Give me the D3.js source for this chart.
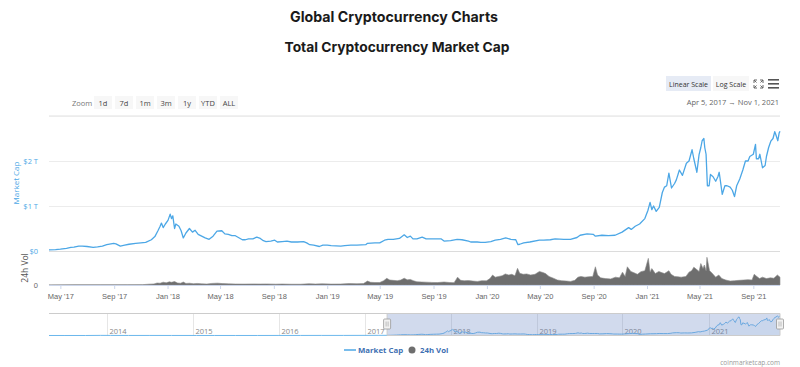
<!DOCTYPE html>
<html><head><meta charset="utf-8">
<script src="https://cdn.jsdelivr.net/npm/d3@7"></script>
<style>
html,body{margin:0;padding:0;background:#fff;}
svg{display:block;font-family:"Open Sans","Noto Sans",sans-serif;}
</style></head><body>
<svg id="c" width="800" height="367"></svg>
<script>
// ---------- DATA ----------
const chartTitle = "Global Cryptocurrency Charts";
const chartSubtitle = "Total Cryptocurrency Market Cap";
const zoomButtons = ["1d","7d","1m","3m","1y","YTD","ALL"];
const rangeText = ["Apr 5, 2017", "→", "Nov 1, 2021"];
const capTickValues = [0, 1, 2, 3];
const capTickLabels = ["$0", "$1 T", "$2 T", ""];
const xTickDates = ["2017-05-01","2017-09-01","2018-01-01","2018-05-01","2018-09-01","2019-01-01","2019-05-01","2019-09-01","2020-01-01","2020-05-01","2020-09-01","2021-01-01","2021-05-01","2021-09-01"];
const xTickLabels = ["May '17","Sep '17","Jan '18","May '18","Sep '18","Jan '19","May '19","Sep '19","Jan '20","May '20","Sep '20","Jan '21","May '21","Sep '21"];
const navYears = ["2014","2015","2016","2017","2018","2019","2020","2021"];

// Total market cap, trillions USD
const capDates = ["2017-04-05","2017-04-20","2017-05-01","2017-05-15","2017-05-25","2017-06-01","2017-06-12","2017-06-20","2017-07-01","2017-07-15","2017-07-25","2017-08-05","2017-08-15","2017-08-31","2017-09-05","2017-09-15","2017-09-25","2017-10-05","2017-10-20","2017-11-01","2017-11-12","2017-11-25","2017-12-03","2017-12-10","2017-12-15","2017-12-18","2017-12-22","2017-12-27","2018-01-02","2018-01-07","2018-01-10","2018-01-13","2018-01-17","2018-01-20","2018-01-27","2018-02-01","2018-02-06","2018-02-12","2018-02-20","2018-02-27","2018-03-05","2018-03-12","2018-03-20","2018-03-28","2018-04-06","2018-04-15","2018-04-24","2018-05-05","2018-05-12","2018-05-20","2018-05-28","2018-06-05","2018-06-12","2018-06-21","2018-06-28","2018-07-05","2018-07-15","2018-07-24","2018-08-01","2018-08-08","2018-08-14","2018-08-25","2018-09-03","2018-09-09","2018-09-20","2018-10-01","2018-10-11","2018-10-25","2018-11-08","2018-11-15","2018-11-22","2018-12-01","2018-12-14","2018-12-22","2019-01-01","2019-01-10","2019-02-01","2019-02-10","2019-02-24","2019-03-10","2019-03-30","2019-04-03","2019-04-20","2019-05-01","2019-05-12","2019-05-20","2019-06-01","2019-06-15","2019-06-26","2019-07-03","2019-07-10","2019-07-16","2019-07-25","2019-08-06","2019-08-15","2019-08-25","2019-09-05","2019-09-18","2019-09-25","2019-10-10","2019-10-25","2019-11-05","2019-11-20","2019-11-25","2019-12-10","2019-12-18","2019-12-28","2020-01-10","2020-01-20","2020-02-01","2020-02-13","2020-02-25","2020-03-07","2020-03-12","2020-03-16","2020-03-25","2020-04-08","2020-04-30","2020-05-10","2020-05-25","2020-06-05","2020-06-25","2020-07-10","2020-07-25","2020-08-01","2020-08-17","2020-08-31","2020-09-05","2020-09-20","2020-10-05","2020-10-20","2020-11-05","2020-11-20","2020-11-26","2020-12-05","2020-12-15","2020-12-27","2021-01-03","2021-01-08","2021-01-12","2021-01-16","2021-01-22","2021-01-29","2021-02-05","2021-02-10","2021-02-15","2021-02-20","2021-02-26","2021-03-05","2021-03-09","2021-03-16","2021-03-23","2021-04-01","2021-04-07","2021-04-14","2021-04-18","2021-04-25","2021-04-30","2021-05-04","2021-05-07","2021-05-11","2021-05-13","2021-05-16","2021-05-19","2021-05-23","2021-05-26","2021-06-01","2021-06-07","2021-06-12","2021-06-15","2021-06-22","2021-06-28","2021-07-03","2021-07-10","2021-07-15","2021-07-20","2021-07-25","2021-08-01","2021-08-08","2021-08-14","2021-08-20","2021-08-24","2021-09-01","2021-09-06","2021-09-08","2021-09-13","2021-09-16","2021-09-22","2021-09-28","2021-10-01","2021-10-06","2021-10-11","2021-10-16","2021-10-20","2021-10-22","2021-10-27","2021-10-30","2021-11-01"];
const capValues = [0.025,0.03,0.04,0.06,0.08,0.085,0.11,0.11,0.1,0.08,0.09,0.11,0.14,0.17,0.16,0.11,0.13,0.15,0.17,0.18,0.19,0.25,0.32,0.45,0.55,0.62,0.52,0.6,0.68,0.82,0.72,0.78,0.5,0.6,0.55,0.45,0.29,0.4,0.5,0.42,0.46,0.37,0.33,0.29,0.26,0.33,0.44,0.45,0.38,0.37,0.34,0.34,0.3,0.25,0.25,0.27,0.27,0.31,0.28,0.23,0.21,0.22,0.24,0.2,0.21,0.22,0.2,0.2,0.21,0.18,0.14,0.13,0.1,0.13,0.13,0.12,0.11,0.12,0.13,0.13,0.14,0.17,0.18,0.18,0.24,0.26,0.26,0.28,0.36,0.3,0.33,0.27,0.27,0.31,0.27,0.27,0.27,0.27,0.22,0.23,0.26,0.25,0.22,0.2,0.2,0.19,0.19,0.21,0.24,0.26,0.29,0.26,0.25,0.14,0.15,0.18,0.2,0.24,0.24,0.25,0.27,0.26,0.26,0.3,0.35,0.38,0.37,0.33,0.35,0.34,0.35,0.42,0.52,0.48,0.55,0.6,0.72,0.9,1.08,0.92,1.0,0.88,0.97,1.3,1.42,1.45,1.73,1.4,1.5,1.58,1.8,1.68,1.95,2.0,2.25,2.05,1.75,2.14,2.3,2.45,2.5,2.3,2.15,1.45,1.45,1.7,1.65,1.55,1.65,1.75,1.26,1.45,1.45,1.42,1.35,1.21,1.45,1.6,1.8,2.0,2.0,2.1,2.15,2.37,2.05,2.05,2.15,1.85,1.9,2.1,2.3,2.44,2.5,2.65,2.6,2.45,2.62,2.66];

// 24h volume, billions USD
const volDates = ["2017-04-05","2017-06-01","2017-08-01","2017-10-01","2017-11-05","2017-11-20","2017-12-01","2017-12-08","2017-12-15","2017-12-22","2017-12-29","2018-01-05","2018-01-10","2018-01-17","2018-01-24","2018-01-31","2018-02-06","2018-02-12","2018-02-20","2018-03-01","2018-03-10","2018-03-20","2018-04-01","2018-04-12","2018-04-25","2018-05-06","2018-05-20","2018-06-05","2018-06-25","2018-07-15","2018-08-01","2018-08-15","2018-09-05","2018-09-20","2018-10-10","2018-11-01","2018-11-20","2018-12-05","2018-12-20","2019-01-10","2019-02-01","2019-02-20","2019-03-10","2019-03-25","2019-04-03","2019-04-10","2019-04-20","2019-05-01","2019-05-10","2019-05-17","2019-05-24","2019-06-01","2019-06-10","2019-06-18","2019-06-26","2019-07-03","2019-07-10","2019-07-17","2019-07-25","2019-08-05","2019-08-15","2019-08-28","2019-09-10","2019-09-25","2019-10-08","2019-10-18","2019-10-26","2019-11-02","2019-11-10","2019-11-20","2019-11-30","2019-12-10","2019-12-20","2019-12-31","2020-01-08","2020-01-14","2020-01-20","2020-01-28","2020-02-05","2020-02-12","2020-02-20","2020-02-27","2020-03-05","2020-03-11","2020-03-16","2020-03-24","2020-04-01","2020-04-10","2020-04-20","2020-04-30","2020-05-08","2020-05-14","2020-05-22","2020-06-01","2020-06-10","2020-06-20","2020-07-01","2020-07-10","2020-07-20","2020-07-27","2020-08-03","2020-08-12","2020-08-20","2020-08-30","2020-09-05","2020-09-10","2020-09-17","2020-09-28","2020-10-10","2020-10-21","2020-10-30","2020-11-06","2020-11-12","2020-11-17","2020-11-25","2020-12-01","2020-12-10","2020-12-18","2020-12-27","2021-01-04","2021-01-08","2021-01-12","2021-01-20","2021-01-28","2021-02-05","2021-02-10","2021-02-20","2021-02-25","2021-03-05","2021-03-13","2021-03-20","2021-03-31","2021-04-07","2021-04-13","2021-04-18","2021-04-24","2021-04-30","2021-05-04","2021-05-09","2021-05-12","2021-05-16","2021-05-18","2021-05-24","2021-05-29","2021-06-07","2021-06-14","2021-06-21","2021-06-30","2021-07-10","2021-07-20","2021-07-30","2021-08-10","2021-08-20","2021-08-29","2021-09-03","2021-09-07","2021-09-15","2021-09-22","2021-10-01","2021-10-10","2021-10-18","2021-10-26","2021-11-01"];
const volValues = [1,2,2,3,5,12,15,28,25,40,30,45,38,48,28,25,42,22,25,18,22,16,14,22,26,20,16,14,13,15,14,15,12,14,11,11,18,14,16,13,14,20,18,20,55,38,35,35,60,93,70,65,60,70,95,72,78,60,45,42,40,36,34,42,35,33,110,65,60,62,55,50,60,58,90,140,110,120,130,155,140,150,130,233,165,150,155,140,150,190,175,160,120,95,70,60,55,50,65,110,120,110,115,120,255,140,100,90,85,110,100,180,120,255,190,175,150,187,200,373,180,230,160,190,170,160,200,150,120,115,110,120,180,200,250,220,190,300,230,280,200,388,200,170,110,140,90,70,55,60,65,70,75,70,150,130,90,110,90,100,95,140,110];

// Navigator history before Apr 2017, trillions USD
const navPreDates = ["2013-04-28","2013-07-01","2013-10-01","2013-12-04","2014-01-15","2014-04-01","2014-07-01","2014-10-01","2015-01-15","2015-04-01","2015-07-01","2015-10-01","2016-01-01","2016-04-01","2016-07-01","2016-10-01","2017-01-01","2017-03-01"];
const navPreValues = [0.0016,0.001,0.002,0.015,0.011,0.006,0.008,0.005,0.003,0.003,0.004,0.004,0.007,0.007,0.011,0.011,0.018,0.024];

// ---------- DRAW ----------
const parse = d3.timeParse("%Y-%m-%d");
const cap = capDates.map((d,i)=>({date:parse(d), v:capValues[i]}));
const vol = volDates.map((d,i)=>({date:parse(d), v:volValues[i]}));
const nav = navPreDates.map((d,i)=>({date:parse(d), v:navPreValues[i]})).concat(cap);

const svg = d3.select("#c");
const L = 49, R = 780;
const blue = "#4ca7e6";

// titles
svg.append("text").attr("x",394).attr("y",22).attr("text-anchor","middle")
  .attr("font-family","Inter, Roboto, sans-serif").attr("font-weight",700).attr("font-size",14.2).attr("fill","#1a1a1a").text(chartTitle);
svg.append("text").attr("x",397).attr("y",52).attr("text-anchor","middle")
  .attr("font-family","Inter, Roboto, sans-serif").attr("font-weight",700).attr("font-size",13.8).attr("fill","#1a1a1a").text(chartSubtitle);

// scales
const x = d3.scaleTime().domain([parse("2017-04-05"), parse("2021-11-01")]).range([L, R]);
const y = d3.scaleLinear().domain([0, 3]).range([251, 116]);
const yv = d3.scaleLinear().domain([0, 420]).range([285, 255]);

// grid lines
const grid = svg.append("g").attr("transform",`translate(${L},0)`)
  .call(d3.axisLeft(y).tickValues(capTickValues).tickSize(-(R-L)).tickFormat(""));
grid.select(".domain").remove();
grid.selectAll(".tick line").attr("stroke",(d)=> d===0 ? "#dcdcdc" : "#ececec");

// cap labels
const yAx = svg.append("g").attr("transform",`translate(${L-8},0)`)
  .call(d3.axisLeft(y).tickValues(capTickValues).tickSize(0).tickFormat((d,i)=>capTickLabels[i]));
yAx.select(".domain").remove();
yAx.selectAll("text").attr("fill",blue).attr("font-size",7.5).attr("font-family","Open Sans, sans-serif").attr("dx",0);

svg.append("text").attr("transform","translate(19,183) rotate(-90)").attr("text-anchor","middle")
  .attr("fill",blue).attr("font-size",8).text("Market Cap");
svg.append("text").attr("transform","translate(28,268) rotate(-90)").attr("text-anchor","middle")
  .attr("fill","#555").attr("font-size",8.5).text("24h Vol");

// volume area
svg.append("path").datum(vol)
  .attr("d", d3.area().x(d=>x(d.date)).y0(yv(0)).y1(d=>yv(d.v)))
  .attr("fill","#6e6e6e").attr("stroke","#8a8a8a").attr("stroke-width",0.6);

// vol axis label
const yvAx = svg.append("g").attr("transform",`translate(${L-8},0)`)
  .call(d3.axisLeft(yv).tickValues([0]).tickSize(0).tickFormat(()=> "0"));
yvAx.select(".domain").remove();
yvAx.selectAll("text").attr("fill","#666").attr("font-size",7.5);

// x axis
const xAx = svg.append("g").attr("transform","translate(0,285)")
  .call(d3.axisBottom(x).tickValues(xTickDates.map(parse)).tickSize(4).tickFormat((d,i)=>xTickLabels[i]));
xAx.select(".domain").attr("stroke","#ccd6eb").attr("d",`M${L},0.5H${R}`);
xAx.selectAll(".tick line").attr("stroke","#ccd6eb");
xAx.selectAll("text").attr("fill","#666").attr("font-size",7.5).attr("dy","0.9em");

// market cap line
svg.append("path").datum(cap)
  .attr("d", d3.line().x(d=>x(d.date)).y(d=>y(d.v)))
  .attr("fill","none").attr("stroke",blue).attr("stroke-width",1.3).attr("stroke-linejoin","round");

// toolbar
svg.append("text").attr("x",72).attr("y",106).attr("font-size",7.5).attr("fill","#777").text("Zoom");
const bw = 18, bgap = 3;
zoomButtons.forEach((b,i)=>{
  const bx = 94 + i*(bw+bgap);
  svg.append("rect").attr("x",bx).attr("y",96).attr("width",bw).attr("height",13).attr("fill","#f7f7f7");
  svg.append("text").attr("x",bx+bw/2).attr("y",106).attr("text-anchor","middle").attr("font-size",7.5).attr("fill","#444").text(b);
});
svg.append("rect").attr("x",666).attr("y",76).attr("width",45).attr("height",15).attr("fill","#e6ebf5");
svg.append("text").attr("x",688.5).attr("y",86.5).attr("text-anchor","middle").attr("font-size",7).attr("fill","#333").text("Linear Scale");
svg.append("rect").attr("x",713).attr("y",76).attr("width",36).attr("height",15).attr("fill","#f7f7f7");
svg.append("text").attr("x",731).attr("y",86.5).attr("text-anchor","middle").attr("font-size",7).attr("fill","#333").text("Log Scale");
// fullscreen icon
const fs = svg.append("g").attr("stroke","#666").attr("stroke-width",1).attr("fill","none");
[[754,80,1,1],[763,80,-1,1],[754,88,1,-1],[763,88,-1,-1]].forEach(([cx,cy,sx,sy])=>{
  fs.append("path").attr("d",`M${cx},${cy+3*sy}V${cy}H${cx+3*sx}M${cx},${cy}L${cx+2.5*sx},${cy+2.5*sy}`);
});
// menu icon
[80,84,88].forEach(yy=>svg.append("rect").attr("x",768).attr("y",yy-1).attr("width",11).attr("height",1.6).attr("fill","#555"));
svg.append("text").attr("x",779).attr("y",105).attr("text-anchor","end").attr("font-size",7.5).attr("fill","#666")
  .text(rangeText.join("  "));
svg.append("line").attr("x1",L).attr("x2",R).attr("y1",115.5).attr("y2",115.5).attr("stroke","#f0f0f0");

// navigator
const xn = d3.scaleTime().domain([parse("2013-04-28"), parse("2021-11-01")]).range([L, R]);
const yn = d3.scaleLinear().domain([0, 2.9]).range([335.5, 314]);
const nTop = 313, nBot = 336;
navYears.forEach(yr=>{
  const xx = Math.round(xn(parse(yr+"-01-01")))+0.5;
  svg.append("line").attr("x1",xx).attr("x2",xx).attr("y1",nTop).attr("y2",nBot).attr("stroke","#e6e6e6");
  svg.append("text").attr("x",xx+2).attr("y",334).attr("font-size",7.5).attr("fill","#888").text(yr);
});
svg.append("path").datum(nav)
  .attr("d", d3.area().x(d=>xn(d.date)).y0(nBot).y1(d=>yn(d.v)))
  .attr("fill","rgba(76,167,230,0.06)");
svg.append("path").datum(nav)
  .attr("d", d3.line().x(d=>xn(d.date)).y(d=>yn(d.v)))
  .attr("fill","none").attr("stroke","#6cb8ec").attr("stroke-width",1);
const mx0 = xn(parse("2017-04-05")), mx1 = xn(parse("2021-11-01"));
svg.append("rect").attr("x",mx0).attr("y",nTop).attr("width",mx1-mx0).attr("height",nBot-nTop)
  .attr("fill","rgba(102,133,194,0.3)");
svg.append("path").attr("d",`M${L},${nTop+0.5}H${mx0}V${nBot-0.5}H${mx1}V${nTop+0.5}H${R}`)
  .attr("fill","none").attr("stroke","#cccccc").attr("stroke-width",1);
svg.append("line").attr("x1",L).attr("x2",R).attr("y1",nTop+0.5).attr("y2",nTop+0.5).attr("stroke","#cccccc");
[mx0, mx1].forEach(hx=>{
  svg.append("rect").attr("x",hx-3.5).attr("y",319).attr("width",7).attr("height",10).attr("rx",1)
    .attr("fill","#f2f2f2").attr("stroke","#999").attr("stroke-width",0.8);
  svg.append("path").attr("d",`M${hx-1},321.5V326.5M${hx+1},321.5V326.5`).attr("stroke","#999").attr("stroke-width",0.6);
});

// legend
svg.append("line").attr("x1",344).attr("x2",356).attr("y1",350).attr("y2",350).attr("stroke",blue).attr("stroke-width",1.5);
svg.append("text").attr("x",358).attr("y",353).attr("font-size",7.8).attr("font-weight",700).attr("fill","#3e70b2").text("Market Cap");
svg.append("circle").attr("cx",412).attr("cy",350).attr("r",3.5).attr("fill","#6e6e6e");
svg.append("text").attr("x",420).attr("y",353).attr("font-size",7.8).attr("font-weight",700).attr("fill","#3e70b2").text("24h Vol");

// credit
svg.append("text").attr("x",780).attr("y",365).attr("text-anchor","end").attr("font-size",6.5).attr("fill","#999").text("coinmarketcap.com");
</script>
</body></html>
